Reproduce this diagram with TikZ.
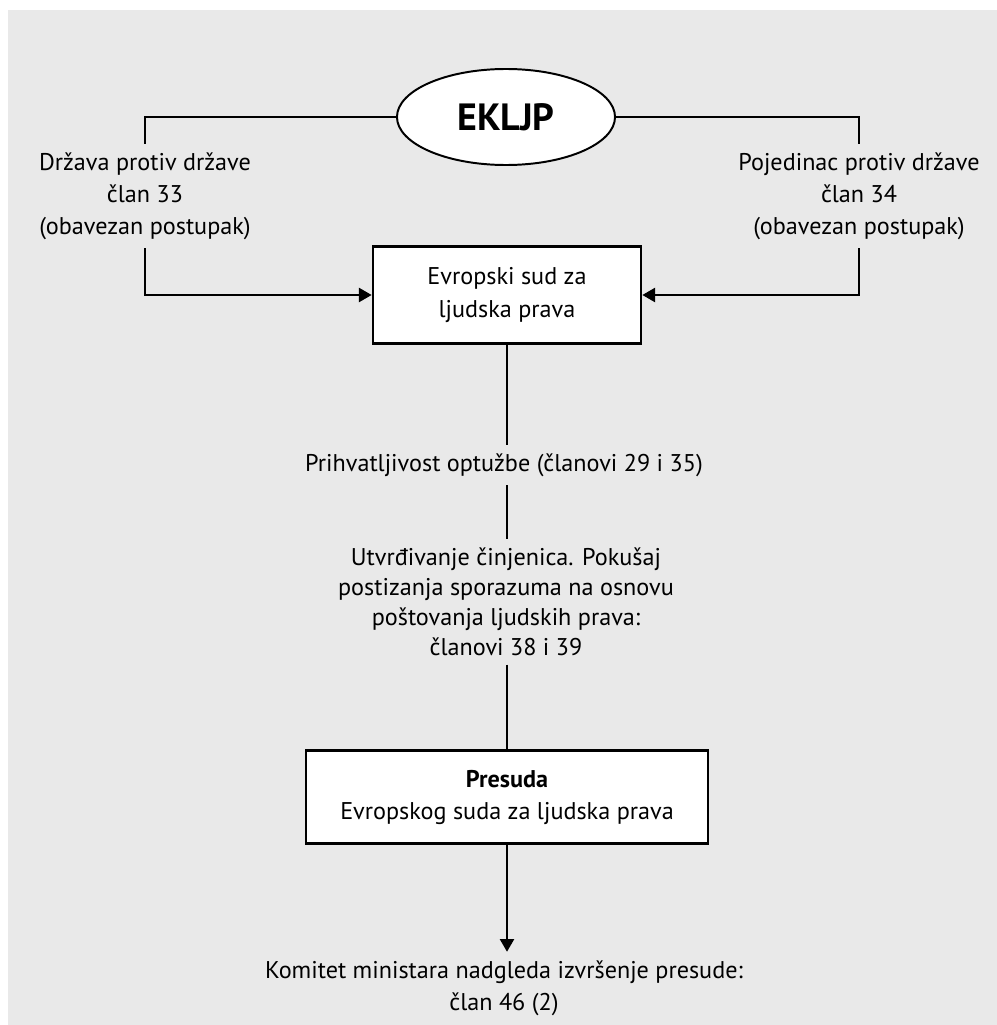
\documentclass[tikz,border=0pt]{standalone}
\usepackage{fontspec}
\setmainfont{PT Sans}
\usepackage{xcolor}
\usepackage{tikz}
\usetikzlibrary{arrows.meta, shapes.geometric}

\definecolor{panelgray}{HTML}{E9E9E9}

\begin{document}
\begin{tikzpicture}[
    x=0.025cm, y=-0.025cm,
    box/.style={
        rectangle,
        draw,
        line width=1.9pt,
        fill=white,
        align=center,
        font=\fontsize{17.2}{22.8}\selectfont
    },
    label/.style={
        align=center,
        inner sep=6pt,
        font=\fontsize{17.2}{22.8}\selectfont
    },
    link/.style={
        line width=1.4pt
    },
    arrow/.style={
        -{Triangle[length=9pt, width=10pt]},
        line width=1.4pt
    }
]
% Background panel
\useasboundingbox (0,0) rectangle (997,1025);
\fill[panelgray] (8,10) rectangle (997,1025);

% Nodes
\node[ellipse, draw, line width=1.4pt, fill=white, minimum width=5.45cm, minimum height=2.4cm,
      font=\fontsize{27}{30}\bfseries] (ekljp) at (506,117) {EKLJP};
\node[label] (state) at (145,196) {Država protiv države\\član 33\\(obavezan postupak)};
\node[label] (person) at (859,196) {Pojedinac protiv države\\član 34\\(obavezan postupak)};
\node[box, minimum width=6.7cm, minimum height=2.42cm] (court) at (507,295) {Evropski sud za\\ljudska prava};
\node[label] (admiss) at (504,465) {Prihvatljivost optužbe (članovi 29 i 35)};
\node[label, font=\fontsize{17.2}{21.3}\selectfont] (facts) at (506,602)
    {Utvrđivanje činjenica. Pokušaj\\postizanja sporazuma na osnovu\\poštovanja ljudskih prava:\\članovi 38 i 39};
\node[box, minimum width=10.05cm, minimum height=2.32cm] (judgment) at (507,797)
    {\textbf{Presuda}\\Evropskog suda za ljudska prava};
\node[label] (committee) at (504,988) {Komitet ministara nadgleda izvršenje presude:\\član 46 (2)};

% Arrows
\draw[link] (ekljp.west) -| (state.north);
\draw[link] (ekljp.east) -| (person.north);
\draw[arrow] (state.south) |- (court.west);
\draw[arrow] (person.south) |- (court.east);
\draw[link] (court.south) -- (court.south |- admiss.north);
\draw[link] (court.south |- admiss.south) -- (court.south |- facts.north);
\draw[link] (court.south |- facts.south) -- (judgment.north);
\draw[arrow] (judgment.south) -- (judgment.south |- committee.north);
\end{tikzpicture}
\end{document}
